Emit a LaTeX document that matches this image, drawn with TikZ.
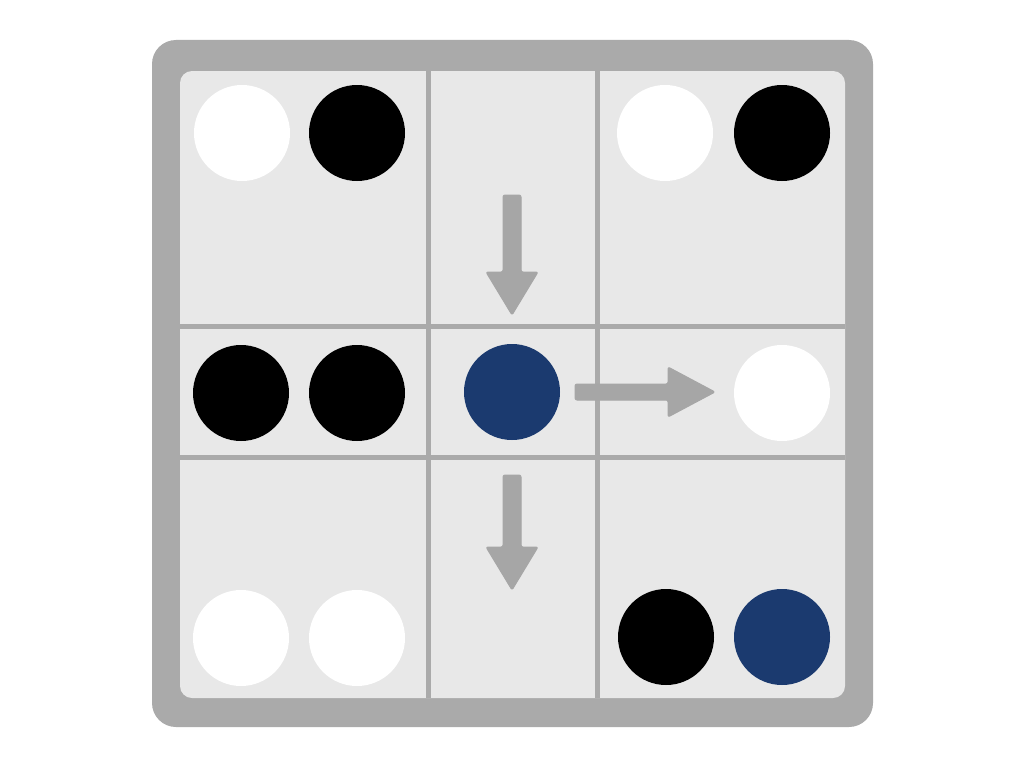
\documentclass[tikz,border=0pt]{standalone}
\begin{document}
\begin{tikzpicture}[x=1pt,y=-1pt]
\definecolor{frame}{HTML}{AAAAAA}
\definecolor{board}{HTML}{E8E8E8}
\definecolor{arrowgray}{HTML}{A6A6A6}
\definecolor{navy}{HTML}{1B3A6F}
\tikzset{
  stone/.style={circle,minimum size=96pt,inner sep=0pt,draw=none},
  wstone/.style={stone,fill=white},
  bstone/.style={stone,fill=black},
  nstone/.style={stone,fill=navy},
  gridline/.style={draw=frame,line width=5pt},
  bigarrow/.style={fill=arrowgray,draw=arrowgray,line width=1pt,rounded corners=2pt,line join=round}
}
\useasboundingbox (0,0) rectangle (1024,768);
\fill[white] (0,0) rectangle (1024,768);
% frame
\fill[frame,rounded corners=24pt] (152,40) rectangle (873,727);
\fill[board,rounded corners=12pt] (180,71) rectangle (845,698);
% grid
\draw[gridline] (428,71) -- (428,698);
\draw[gridline] (597,71) -- (597,698);
\draw[gridline] (180,326) -- (845,326);
\draw[gridline] (180,457) -- (845,457);
% stones
\node[wstone] (a1) at (242,133) {};
\node[bstone] (a2) at (357,133) {};
\node[wstone] (c1) at (665,133) {};
\node[bstone] (c2) at (782,133) {};
\node[bstone] (d1) at (241,393) {};
\node[bstone] (d2) at (357,393) {};
\node[nstone] (e) at (512,392) {};
\node[wstone] (f) at (782,393) {};
\node[wstone] (g1) at (241,638) {};
\node[wstone] (g2) at (357,638) {};
\node[bstone] (i1) at (666,637) {};
\node[nstone] (i2) at (782,637) {};
% arrows
\path[bigarrow] (503,195) -- (521,195) -- (521,272) -- (538,272) -- (512,315) -- (486,272) -- (503,272) -- cycle;
\path[bigarrow] (503,475) -- (521,475) -- (521,547) -- (538,547) -- (512,590) -- (486,547) -- (503,547) -- cycle;
\path[bigarrow] (575,384) -- (668,384) -- (668,367) -- (715,392) -- (668,417) -- (668,400) -- (575,400) -- cycle;
\end{tikzpicture}
\end{document}
